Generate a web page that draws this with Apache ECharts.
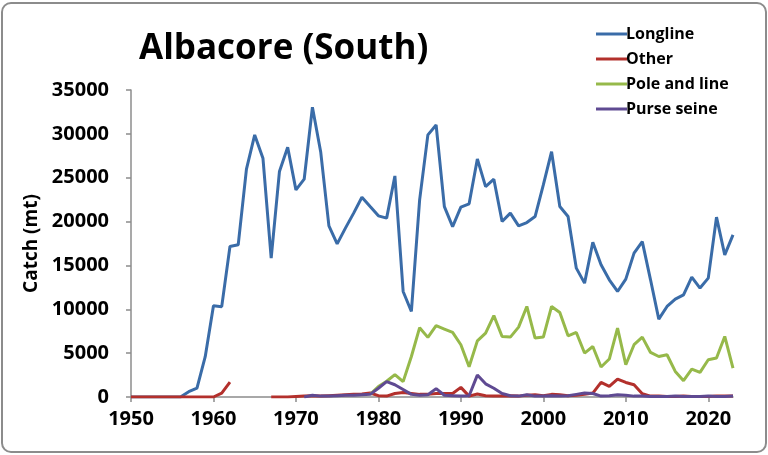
<!DOCTYPE html>
<html>
<head>
<meta charset="utf-8">
<script src="https://cdn.jsdelivr.net/npm/echarts@6/dist/echarts.min.js"></script>
<style>
html,body{margin:0;padding:0;background:#fff;}
#chart{position:absolute;left:0;top:0;width:768px;height:455px;}
#frame{position:absolute;left:1px;top:2px;width:762px;height:447px;border:2px solid #8c8c8c;border-radius:10px;pointer-events:none;}
</style>
</head>
<body>
<div id="chart"></div>
<div id="frame"></div>
<script>
var years = [];
for (var y = 1950; y <= 2023; y++) years.push(y);

var seriesNames = ['Longline', 'Other', 'Pole and line', 'Purse seine'];
var xTickLabels = [1950, 1960, 1970, 1980, 1990, 2000, 2010, 2020];

var longline = [
  0, 0, 0, 0, 0, 0, 0, 600, 1000, 4600,
  10400, 10300, 17150, 17350, 25970, 29880, 27220, 15830, 25700, 28470,
  23610, 24830, 33030, 27970, 19510, 17460, 19250, 20960, 22780, 21710,
  20650, 20390, 25200, 12030, 9750, 22470, 29880, 31010, 21710, 19430,
  21640, 22020, 27140, 23990, 24830, 20000, 20960, 19510, 19890, 20570,
  24180, 27970, 21710, 20570, 14690, 12980, 17650, 15070, 13360, 12030,
  13440, 16400, 17720, 13360, 8880, 10320, 11160, 11650, 13670, 12420,
  13550, 20500, 16210, 18490
];

var other = [
  0, 0, 0, 0, 0, 0, 0, 0, 0, 0,
  0, 450, 1700, null, null, null, null, 0, 0, 0,
  50, 100, 150, 100, 150, 200, 250, 300, 350, 450,
  150, 100, 400, 500, 400, 300, 300, 400, 400, 400,
  1100, 100, 350, 150, 100, 100, 150, 100, 200, 250,
  150, 300, 250, 150, 200, 300, 450, 1660, 1210, 2050,
  1660, 1400, 380, 100, 100, 50, 50, 100, 50, 50,
  50, 100, 100, 100
];

var poleAndLine = [
  null, null, null, null, null, null, null, null, null, null,
  null, null, null, null, null, null, null, null, null, null,
  null, null, null, null, null, null, null, null, null, 300,
  1200, 1800, 2550, 1750, 4620, 7900, 6800, 8140, 7750, 7360,
  5960, 3450, 6400, 7290, 9280, 6900, 6830, 7970, 10320, 6720,
  6830, 10320, 9640, 6980, 7360, 5010, 5760, 3420, 4330, 7860,
  3680, 5960, 6830, 5080, 4620, 4820, 2920, 1860, 3190, 2800,
  4250, 4440, 6900, 3300
];

var purseSeine = [
  null, null, null, null, null, null, null, null, null, null,
  null, null, null, null, null, null, null, null, null, null,
  null, 0, 200, 100, 100, 150, 200, 200, 250, 300,
  1000, 1750, 1400, 850, 300, 200, 250, 950, 200, 150,
  100, 150, 2500, 1500, 1000, 400, 150, 100, 250, 100,
  100, 150, 100, 150, 300, 450, 400, 100, 150, 250,
  200, 100, 100, 50, 50, 50, 100, 50, 50, 50,
  100, 50, 50, 100
];

var colors = ['#3a6ca8', '#b3302c', '#96b94a', '#5f4a92'];
var values = [longline, other, poleAndLine, purseSeine];

function pairs(arr) {
  return years.map(function (yr, i) { return [yr, arr[i]]; });
}
function plain(v) { return String(v); }

var chart = echarts.init(document.getElementById('chart'));
var font = '"Open Sans", sans-serif';

chart.setOption({
  animation: false,
  backgroundColor: '#ffffff',
  color: colors,
  title: {
    text: 'Albacore (South)',
    left: 134,
    top: 27,
    textStyle: { fontFamily: font, fontSize: 35, fontWeight: 'bold', color: '#000' }
  },
  legend: {
    orient: 'vertical',
    left: 591,
    top: 19,
    icon: 'rect',
    itemWidth: 31,
    itemHeight: 3,
    itemGap: 5,
    data: seriesNames,
    textStyle: { fontFamily: font, fontSize: 16, fontWeight: 'bold', color: '#000', lineHeight: 20, padding: [0, 0, 0, -6] }
  },
  grid: { left: 131, right: 35, top: 90, bottom: 58, containLabel: false },
  xAxis: {
    type: 'value',
    min: 1950,
    max: 2023,
    interval: 10,
    splitLine: { show: false },
    axisLine: { lineStyle: { color: '#8c8c8c', width: 1.5 } },
    axisTick: { show: true, length: 5, lineStyle: { color: '#8c8c8c', width: 1.5 }, customValues: xTickLabels },
    axisLabel: { customValues: xTickLabels, formatter: plain, fontFamily: font, fontSize: 20, fontWeight: 'bold', color: '#000', margin: 12 }
  },
  yAxis: {
    type: 'value',
    min: 0,
    max: 35000,
    interval: 5000,
    name: 'Catch (mt)',
    nameLocation: 'middle',
    nameGap: 90,
    nameRotate: 90,
    nameTextStyle: { fontFamily: font, fontSize: 19, fontWeight: 'bold', color: '#000' },
    splitLine: { show: false },
    axisLine: { show: true, lineStyle: { color: '#8c8c8c', width: 1.5 } },
    axisTick: { show: true, length: 5, lineStyle: { color: '#8c8c8c', width: 1.5 } },
    axisLabel: { formatter: plain, fontFamily: font, fontSize: 20, fontWeight: 'bold', color: '#000', margin: 22 }
  },
  series: seriesNames.map(function (name, i) {
    return {
      name: name,
      type: 'line',
      data: pairs(values[i]),
      symbol: 'none',
      connectNulls: false,
      lineStyle: { width: 3, color: colors[i] },
      itemStyle: { color: colors[i] },
      z: 2 + i
    };
  })
});
</script>
</body>
</html>
